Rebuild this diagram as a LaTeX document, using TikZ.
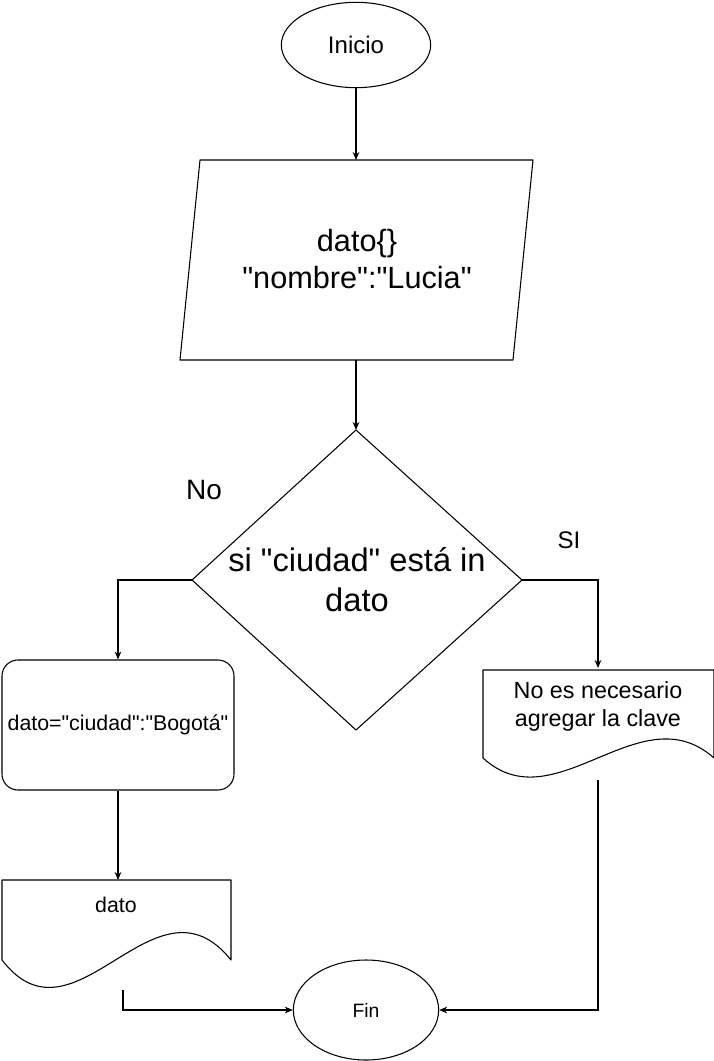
\documentclass[tikz,border=0pt]{standalone}
\usepackage{fontspec}
\setmainfont{Liberation Sans}
\newfontfamily\plainfont{Liberation Sans}
\usetikzlibrary{shapes.geometric,arrows.meta}
\tikzset{
  shapeline/.style={draw=black, line width=0.8pt, line join=round},
  arr/.style={draw=black, line width=0.8pt, -{Stealth[length=6pt,width=5pt]}},
  txt/.style={align=center, inner sep=0pt, text=black},
  fs/.style={font=\plainfont\fontsize{#1}{1.2*#1}\selectfont},
}
\begin{document}
\begin{tikzpicture}[x=0.75pt,y=-0.75pt]
\useasboundingbox (0,0) rectangle (714,1061);
% start
\node[ellipse, shapeline, minimum width=112pt, minimum height=64pt, inner sep=0pt, font=\plainfont\fontsize{18}{21}\selectfont] (inicio) at (356,45) {Inicio};
% parallelogram
\draw[shapeline] (200,160) -- (533,160) -- (513,360) -- (180,360) -- cycle;
\coordinate (pin) at (356,160);
\coordinate (pout) at (356,360);
\node[txt, font=\plainfont\fontsize{23}{28}\selectfont] (datoin) at (357,259) {dato\{\}\\"nombre":"Lucia"};
% diamond
\coordinate (dtop) at (356,430);
\coordinate (dleft) at (192,580);
\coordinate (dright) at (522,580);
\coordinate (dbot) at (356,730);
\draw[shapeline] (dtop) -- (dright) -- (dbot) -- (dleft) -- cycle;
\node[txt, font=\plainfont\fontsize{24.5}{30}\selectfont] (cond) at (357,580) {si "ciudad" está in\\dato};
% labels
\node[txt, font=\plainfont\fontsize{21}{24}\selectfont] (no) at (204,490) {No};
\node[txt, font=\plainfont\fontsize{18}{22}\selectfont] (si) at (569,540) {SI};
% rounded rectangle
\node[rectangle, rounded corners=12pt, shapeline, minimum width=174pt, minimum height=97.5pt, inner sep=0pt, font=\plainfont\fontsize{16}{19}\selectfont] (asig) at (118,725) {dato="ciudad":"Bogotá"};
% left document
\draw[shapeline] (2,880) -- (231,880) -- (231,960) .. controls (155,865) and (75,1055) .. (2,960) -- cycle;
\coordinate (lin) at (118,880);
\coordinate (lout) at (123,990);
\node[txt, font=\plainfont\fontsize{16}{19}\selectfont] (dato) at (116,905) {dato};
% right document
\draw[shapeline] (483,670) -- (714,670) -- (714,758) .. controls (640,692) and (555,824) .. (483,758) -- cycle;
\coordinate (rin) at (598,668);
\coordinate (rout) at (598,780);
\node[txt, font=\plainfont\fontsize{17.5}{21}\selectfont] (noes) at (598,706) {No es necesario\\agregar la clave};
% end
\node[ellipse, shapeline, minimum width=109pt, minimum height=75pt, inner sep=0pt, font=\plainfont\fontsize{14.5}{17}\selectfont] (fin) at (366,1010) {Fin};
% connectors
\draw[arr] (inicio.south) -- (pin);
\draw[arr] (pout) -- (dtop);
\draw[arr] (dleft) -| (asig.north);
\draw[arr] (dright) -| (rin);
\draw[arr] (asig.south) -- (lin);
\draw[arr] (lout) |- (fin.west);
\draw[arr] (rout) |- (fin.east);
\end{tikzpicture}
\end{document}
